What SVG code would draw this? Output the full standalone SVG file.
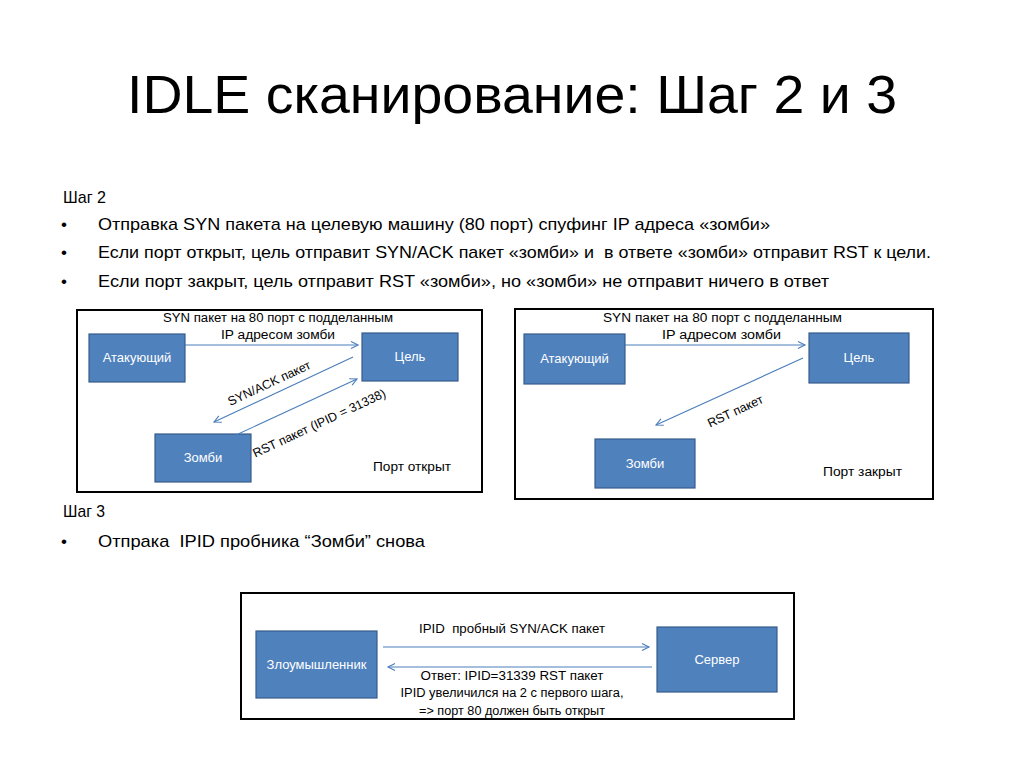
<svg xmlns="http://www.w3.org/2000/svg" width="1024" height="767" viewBox="0 0 1024 767">
<defs>
<style>
text{font-family:"Liberation Sans",Arial,sans-serif;}
.title{font-size:54px;fill:#000;}
.body{font-size:17px;fill:#000;}
.lbl{font-size:12.5px;fill:#000;}
.nt{font-size:13px;fill:#fff;text-anchor:middle;}
.node{fill:#4f81bd;stroke:#385d8a;stroke-width:1.2;}
.frame{fill:#fff;stroke:#000;stroke-width:2;}
.conn{stroke:#4a7ebb;stroke-width:1.1;fill:none;marker-end:url(#ah);}
</style>
<marker id="ah" markerWidth="10" markerHeight="10" refX="8" refY="4" orient="auto" markerUnits="userSpaceOnUse">
<path d="M1,0.5 L8,4 L1,7.5" fill="none" stroke="#4a7ebb" stroke-width="1.1"/>
</marker>
</defs>
<rect width="1024" height="767" fill="#fff"/>
<text class="title" x="127" y="113" textLength="770" lengthAdjust="spacingAndGlyphs">IDLE сканирование: Шаг 2 и 3</text>

<g id="text-step2">
<text class="body" x="63" y="203" textLength="43" lengthAdjust="spacingAndGlyphs">Шаг 2</text>
<text class="body" x="61" y="230">•</text>
<text class="body" x="98" y="230" textLength="672" lengthAdjust="spacingAndGlyphs">Отправка SYN пакета на целевую машину (80 порт) спуфинг IP адреса «зомби»</text>
<text class="body" x="61" y="258">•</text>
<text class="body" x="98" y="258" textLength="833" lengthAdjust="spacingAndGlyphs" xml:space="preserve">Если порт открыт, цель отправит SYN/ACK пакет «зомби» и  в ответе «зомби» отправит RST к цели.</text>
<text class="body" x="61" y="287">•</text>
<text class="body" x="98" y="287" textLength="731" lengthAdjust="spacingAndGlyphs">Если порт закрыт, цель отправит RST «зомби», но «зомби» не отправит ничего в ответ</text>
</g>
<g id="text-step3">
<text class="body" x="63" y="517" textLength="42" lengthAdjust="spacingAndGlyphs">Шаг 3</text>
<text class="body" x="61" y="547">•</text>
<text class="body" x="98" y="547" textLength="327" lengthAdjust="spacingAndGlyphs" xml:space="preserve">Отпрака  IPID пробника “Зомби” снова</text>
</g>

<!-- Diagram 1: port open -->
<g id="frame1">
<rect class="frame" x="77" y="310" width="405" height="182"/>
<text class="lbl" x="163" y="322" textLength="230" lengthAdjust="spacingAndGlyphs">SYN пакет на 80 порт с подделанным</text>
<text class="lbl" x="221" y="339" textLength="114" lengthAdjust="spacingAndGlyphs">IP адресом зомби</text>
<text class="lbl" x="373" y="471" textLength="78" lengthAdjust="spacingAndGlyphs">Порт открыт</text>
<text class="lbl" transform="translate(271,387) rotate(-25)" text-anchor="middle">SYN/ACK пакет</text>
<text class="lbl" transform="translate(321,427) rotate(-25)" text-anchor="middle">RST пакет (IPID = 31338)</text>
</g>
<g id="n1-attacker"><rect class="node" x="89" y="334" width="96" height="48"/><text class="nt" x="137" y="362">Атакующий</text></g>
<g id="n1-target"><rect class="node" x="362" y="333" width="96" height="48"/><text class="nt" x="410" y="361">Цель</text></g>
<g id="n1-zombie"><rect class="node" x="155" y="434" width="96" height="48"/><text class="nt" x="203" y="462">Зомби</text></g>

<!-- Diagram 2: port closed -->
<g id="frame2">
<rect class="frame" x="515" y="309" width="418" height="190"/>
<text class="lbl" x="603" y="322" textLength="239" lengthAdjust="spacingAndGlyphs">SYN пакет на 80 порт с подделанным</text>
<text class="lbl" x="662" y="339" textLength="119" lengthAdjust="spacingAndGlyphs">IP адресом зомби</text>
<text class="lbl" x="823" y="476" textLength="79" lengthAdjust="spacingAndGlyphs">Порт закрыт</text>
<text class="lbl" transform="translate(737,415) rotate(-25)" text-anchor="middle">RST пакет</text>
</g>
<g id="n2-attacker"><rect class="node" x="524" y="334" width="101" height="50"/><text class="nt" x="574.5" y="363">Атакующий</text></g>
<g id="n2-target"><rect class="node" x="809" y="333" width="100" height="50"/><text class="nt" x="859" y="362">Цель</text></g>
<g id="n2-zombie"><rect class="node" x="595" y="439" width="100" height="49"/><text class="nt" x="645" y="468">Зомби</text></g>

<!-- Diagram 3 -->
<g id="frame3">
<rect class="frame" x="241" y="593" width="553" height="126"/>
<text class="lbl" x="512" y="633" text-anchor="middle" textLength="186" lengthAdjust="spacingAndGlyphs" xml:space="preserve">IPID  пробный SYN/ACK пакет</text>
<text class="lbl" x="512" y="680" text-anchor="middle" textLength="183" lengthAdjust="spacingAndGlyphs">Ответ: IPID=31339 RST пакет</text>
<text class="lbl" x="512" y="697" text-anchor="middle" textLength="223" lengthAdjust="spacingAndGlyphs">IPID увеличился на 2 с первого шага,</text>
<text class="lbl" x="512" y="715" text-anchor="middle" textLength="186" lengthAdjust="spacingAndGlyphs">=&gt; порт 80 должен быть открыт</text>
</g>
<g id="n3-attacker"><rect class="node" x="256" y="631" width="121" height="67"/><text class="nt" x="316.5" y="669">Злоумышленник</text></g>
<g id="n3-server"><rect class="node" x="657" y="627" width="120" height="65"/><text class="nt" x="717" y="664">Сервер</text></g>

<g id="connectors">
<line class="conn" x1="185" y1="345" x2="358" y2="345"/>
<line class="conn" x1="353" y1="357" x2="214" y2="422"/>
<line class="conn" x1="236" y1="435" x2="357" y2="379"/>
<line class="conn" x1="625" y1="345" x2="805" y2="345"/>
<line class="conn" x1="803" y1="358" x2="656" y2="425"/>
<line class="conn" x1="383" y1="647" x2="649" y2="647"/>
<line class="conn" x1="652" y1="667" x2="388" y2="667"/>
</g>
</svg>
